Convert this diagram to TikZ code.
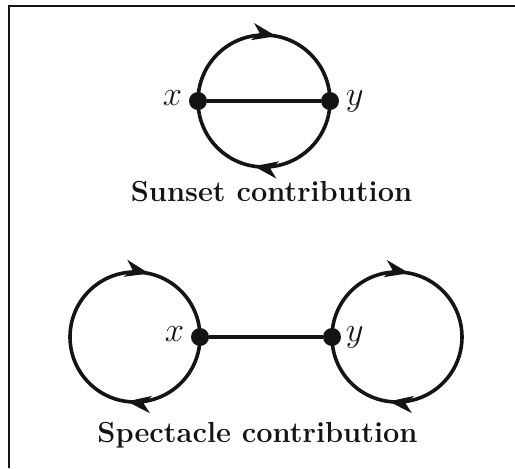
\documentclass[tikz,border=0pt]{standalone}
\usepackage{amsmath}
\usetikzlibrary{arrows.meta,decorations.markings,positioning}
\definecolor{Ink}{HTML}{141414}
\tikzset{
  >={Stealth[length=12pt,width=8.5pt,inset=3.5pt]},
  vertex/.style={circle,minimum size=9pt,inner sep=0pt,draw=none,fill=Ink},
  propline/.style={line width=1.8pt,draw=Ink},
  linkline/.style={line width=1.6pt,draw=Ink},
  flowmark/.style={postaction={decorate},decoration={markings,
    mark=at position #1 with {\arrow[Ink]{>}}}},
  flowmarks/.style 2 args={postaction={decorate},decoration={markings,
    mark=at position #1 with {\arrow[Ink]{>}},
    mark=at position #2 with {\arrow[Ink]{>}}}},
  vlabel/.style={inner sep=1pt,text height=1ex,text depth=0pt,text=Ink,
    font=\fontsize{16}{19}\selectfont},
  caption/.style={anchor=base,inner sep=0pt,text=Ink,
    font=\fontsize{14.5}{17}\selectfont\bfseries},
}

\begin{document}
\begin{tikzpicture}[x=0.5pt,y=0.5pt]
    \useasboundingbox (0,0) rectangle (515,468);
    \draw[line width=1pt,draw=Ink] (8.5,0) -- (8.5,462.5) -- (515,462.5);

    % sunset
    \node[vertex] (sx) at (198,367) {};
    \node[vertex] (sy) at (330,367) {};
    \draw[propline,flowmark=0.56] (sx.center) arc[start angle=180,end angle=0,radius=66];
    \draw[propline,flowmark=0.55] (sy.center) arc[start angle=0,end angle=-180,radius=66];
    \draw[linkline] (sx) -- (sy);
    \node[vlabel,left=2pt of sx] (sxlabel) {$x$};
    \node[vlabel,right=2pt of sy] (sylabel) {$y$};
    \node[caption] (sunsetcap) at (271.5,266.5) {Sunset contribution};

    % spectacle
    \node[vertex] (px) at (200,131) {};
    \node[vertex] (py) at (332,131) {};
    \draw[propline,flowmarks={0.27}{0.785}] (px.center) arc[start angle=0,end angle=-360,radius=65];
    \draw[propline,flowmarks={0.28}{0.77}] (py.center) arc[start angle=180,end angle=-180,radius=65];
    \draw[linkline] (px) -- (py);
    \node[vlabel,left=2pt of px] (pxlabel) {$x$};
    \node[vlabel,right=1pt of py] (pylabel) {$y$};
    \node[caption] (spectaclecap) at (257.5,26) {Spectacle contribution};
\end{tikzpicture}
\end{document}
